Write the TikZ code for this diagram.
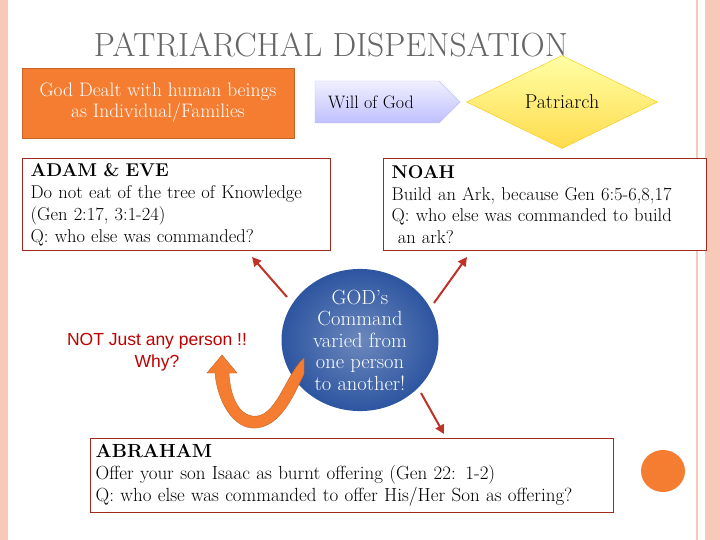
\documentclass[tikz,border=0pt]{standalone}
\usepackage{fontspec}
\newfontfamily\sansf{Liberation Sans}
\usetikzlibrary{shapes.geometric,shapes.arrows,arrows.meta}
\definecolor{pinkb}{RGB}{248,200,185}
\definecolor{boxred}{RGB}{160,40,30}
\definecolor{orng}{RGB}{245,125,50}
\definecolor{dblue}{RGB}{45,85,160}
\definecolor{arrred}{RGB}{190,50,40}
\tikzset{
 tbox/.style={draw=boxred,line width=1.3pt,fill=white,align=left,inner xsep=8pt,inner ysep=5pt,font=\fontsize{18.5}{21.8}\selectfont,anchor=north west},
 rarr/.style={draw=arrred,line width=2pt,-{Triangle[length=9pt,width=9pt]}}
}
\begin{document}
\begin{tikzpicture}[x=1pt,y=-1pt]
\useasboundingbox (0,0) rectangle (720,540);
\fill[white] (0,0) rectangle (720,540);
\fill[pinkb] (0,0) rectangle (8,540);
\fill[pinkb] (705,0) rectangle (720,540);
\draw[pinkb,line width=1.5pt] (697,0) -- (697,540);
\node[text=gray!80!black,font=\fontsize{33.5}{36}\selectfont] (title) at (331,45) {PATRIARCHAL DISPENSATION};
\node[fill=orng,draw=orng!80!black,minimum width=272pt,minimum height=70pt,text=white,align=center,font=\fontsize{19.5}{21}\selectfont] (god) at (158,103) {God Dealt with human beings\\as Individual/Families};
\node[single arrow,top color=blue!6,bottom color=blue!25,draw=blue!25,minimum height=145pt,minimum width=42pt,single arrow head extend=0pt,inner sep=0pt,font=\fontsize{18}{20}\selectfont] (will) at (377,102) {\hspace*{-12pt}Will of God};
\node[diamond,aspect=2.05,inner sep=0pt,minimum width=191pt,minimum height=93pt,top color=yellow!35,bottom color=yellow!60!orange!70,draw=yellow!60!orange,font=\fontsize{20}{22}\selectfont] (pat) at (562,102) {Patriarch};
\node[tbox,minimum width=308pt,minimum height=92pt,text width=292pt] (adam) at (22,158) {\textbf{ADAM \& EVE}\\Do not eat of the tree of Knowledge\\(Gen 2:17, 3:1-24)\\Q: who else was commanded?};
\node[tbox,minimum width=323pt,minimum height=92pt,text width=307pt] (noah) at (383,158) {\textbf{NOAH}\\Build an Ark, because Gen 6:5-6,8,17\\Q: who else was commanded to build\\\ an ark?};
\node[ellipse,minimum width=157pt,minimum height=142pt,inner sep=0pt,inner color=dblue!70!white,outer color=dblue,text=white,align=center,font=\fontsize{20.5}{21.5}\selectfont] (cmd) at (360,340) {GOD's\\Command\\varied from\\one person\\to another!};
\coordinate (a1s) at (287,297); \coordinate (a1e) at (252,257);
\coordinate (a2s) at (434,303); \coordinate (a2e) at (467,257);
\coordinate (a3s) at (421,393); \coordinate (a3e) at (444,434);
\draw[rarr] (a1s) -- (a1e);
\draw[rarr] (a2s) -- (a2e);
\draw[rarr] (a3s) -- (a3e);
\node[tbox,minimum width=523pt,minimum height=74pt,text width=513pt,inner xsep=5pt,inner ysep=4pt,font=\fontsize{19}{22}\selectfont] (abr) at (90,438) {\textbf{ABRAHAM}\\Offer your son Isaac as burnt offering (Gen 22: 1-2)\\Q: who else was commanded to offer His/Her Son as offering?};
\node[text=red!75!black,align=center,font=\sansf\fontsize{17.5}{22}\selectfont] (not) at (157,352) {NOT Just any person !!\\Why?};
\fill[orng,draw=orng!80!black] (304,358) .. controls (285,375) and (276,420) .. (252,416)
 .. controls (238,414) and (230,395) .. (229,373) -- (237,373) -- (222,355) -- (207,373) -- (215,373)
 .. controls (217,400) and (233,430) .. (256,428) .. controls (282,426) and (295,392) .. (304,374) -- cycle;
\fill[orng] (663,471) ellipse (22pt and 21pt);
\end{tikzpicture}
\end{document}
